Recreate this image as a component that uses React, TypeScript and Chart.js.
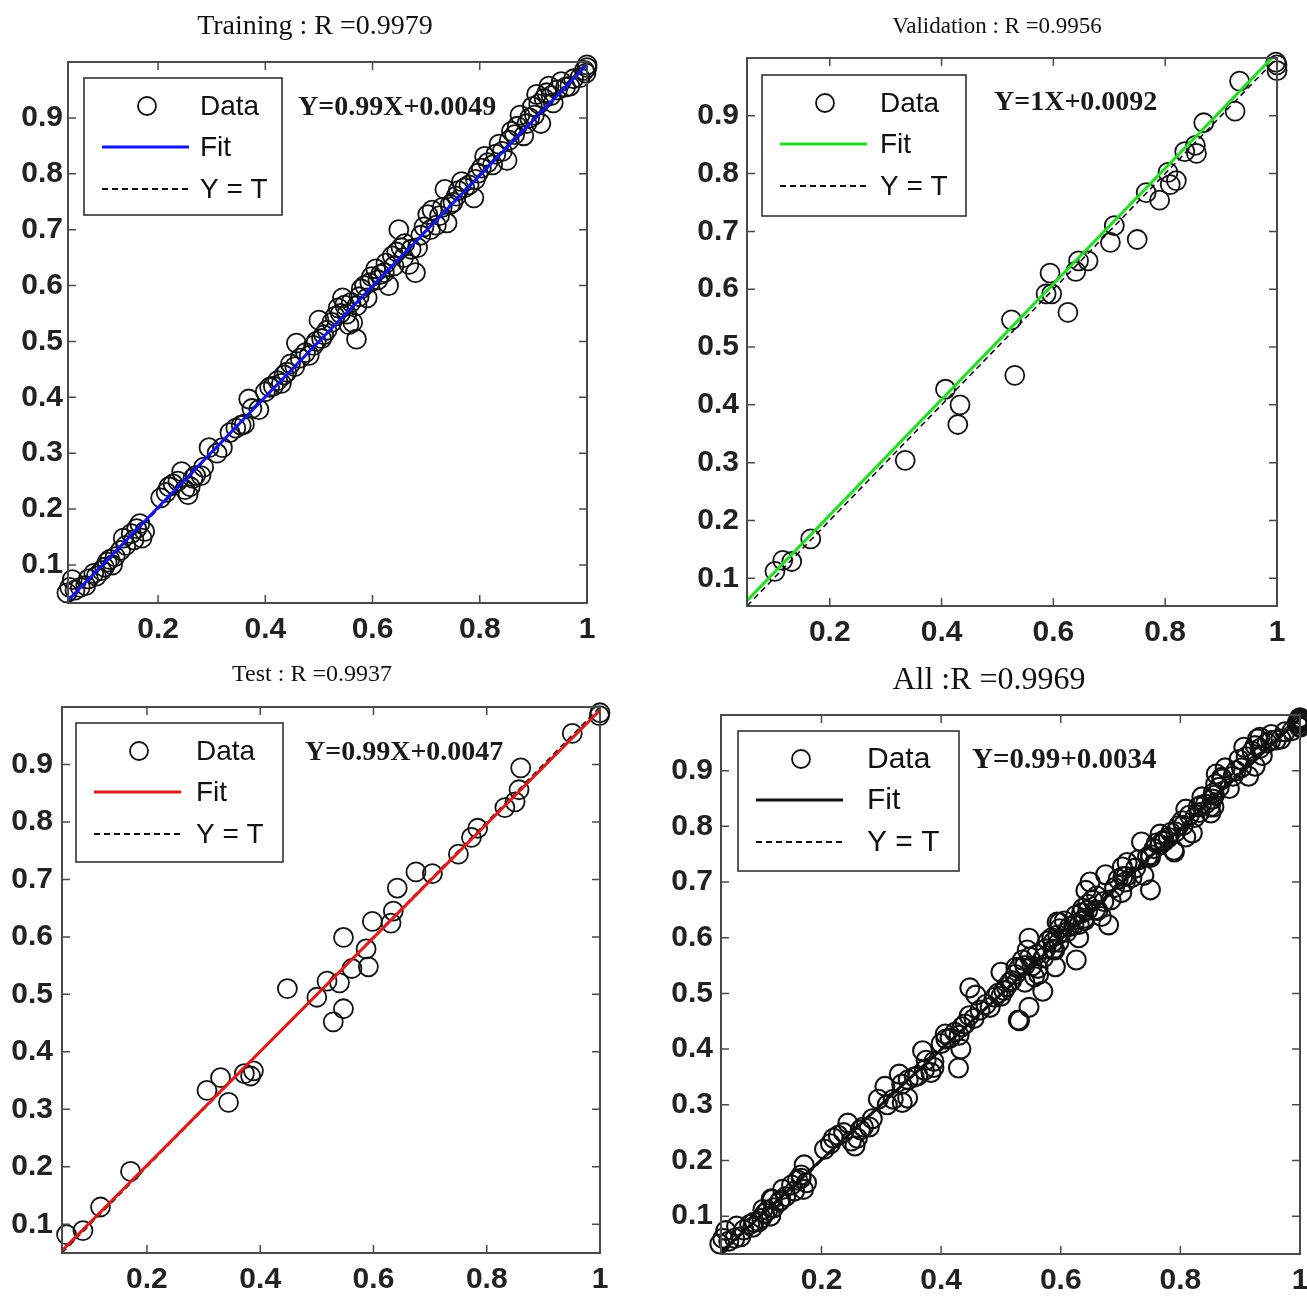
import React, { useEffect, useRef } from "react";
import { Chart, registerables } from "chart.js";

Chart.register(...registerables);

// ---------------- data ----------------
const xTickValues = [0.2, 0.4, 0.6, 0.8, 1];
const yTickValues = [0.1, 0.2, 0.3, 0.4, 0.5, 0.6, 0.7, 0.8, 0.9];

const trainingPoints: [number, number][] = [
  [0.03, 0.05], [0.035, 0.06], [0.04, 0.074], [0.045, 0.055], [0.055, 0.06], [0.065, 0.063],
  [0.07, 0.075], [0.08, 0.085], [0.085, 0.08], [0.095, 0.09], [0.1, 0.096], [0.105, 0.105],
  [0.11, 0.11], [0.115, 0.1], [0.12, 0.115], [0.13, 0.126], [0.135, 0.148], [0.14, 0.135],
  [0.15, 0.156], [0.155, 0.145], [0.16, 0.165], [0.166, 0.174], [0.17, 0.148], [0.175, 0.16],
  [0.205, 0.22], [0.215, 0.23], [0.22, 0.24], [0.228, 0.245], [0.237, 0.25], [0.244, 0.267],
  [0.25, 0.235], [0.256, 0.226], [0.26, 0.24], [0.265, 0.255], [0.27, 0.26], [0.28, 0.26],
  [0.285, 0.275], [0.295, 0.31], [0.31, 0.3], [0.32, 0.31], [0.334, 0.337], [0.345, 0.345],
  [0.355, 0.35], [0.361, 0.352], [0.369, 0.397], [0.375, 0.38], [0.388, 0.378], [0.4, 0.41],
  [0.408, 0.418], [0.415, 0.42], [0.423, 0.43], [0.43, 0.425], [0.435, 0.44], [0.44, 0.445],
  [0.447, 0.46], [0.455, 0.455], [0.458, 0.497], [0.465, 0.47], [0.475, 0.48], [0.482, 0.475],
  [0.49, 0.493], [0.495, 0.5], [0.5, 0.538], [0.505, 0.505], [0.509, 0.512], [0.515, 0.52],
  [0.524, 0.534], [0.53, 0.545], [0.536, 0.56], [0.54, 0.55], [0.544, 0.578], [0.548, 0.565],
  [0.552, 0.549], [0.556, 0.53], [0.56, 0.57], [0.563, 0.534], [0.57, 0.504], [0.571, 0.564],
  [0.575, 0.58], [0.579, 0.594], [0.585, 0.6], [0.59, 0.578], [0.595, 0.605], [0.598, 0.616],
  [0.606, 0.63], [0.61, 0.61], [0.615, 0.62], [0.622, 0.623], [0.625, 0.64], [0.63, 0.6],
  [0.637, 0.653], [0.64, 0.635], [0.645, 0.66], [0.649, 0.7], [0.653, 0.668], [0.658, 0.65],
  [0.66, 0.675], [0.668, 0.638], [0.672, 0.665], [0.68, 0.623], [0.684, 0.668], [0.69, 0.69],
  [0.696, 0.705], [0.703, 0.727], [0.708, 0.7], [0.711, 0.735], [0.719, 0.708], [0.725, 0.725],
  [0.73, 0.74], [0.735, 0.772], [0.739, 0.712], [0.745, 0.745], [0.75, 0.749], [0.756, 0.76],
  [0.76, 0.77], [0.766, 0.786], [0.772, 0.775], [0.78, 0.78], [0.789, 0.757], [0.792, 0.79],
  [0.797, 0.801], [0.803, 0.81], [0.809, 0.831], [0.815, 0.82], [0.824, 0.816], [0.83, 0.835],
  [0.836, 0.853], [0.842, 0.84], [0.851, 0.824], [0.855, 0.86], [0.859, 0.876], [0.865, 0.87],
  [0.87, 0.885], [0.875, 0.905], [0.882, 0.868], [0.888, 0.89], [0.893, 0.9], [0.898, 0.92],
  [0.902, 0.905], [0.906, 0.942], [0.91, 0.925], [0.914, 0.89], [0.92, 0.935], [0.925, 0.945],
  [0.929, 0.957], [0.933, 0.94], [0.937, 0.927], [0.945, 0.95], [0.952, 0.965], [0.96, 0.955],
  [0.968, 0.957], [0.975, 0.97], [0.987, 0.972], [0.995, 0.985], [1.0, 0.99], [1.0, 0.995],
  [0.998, 0.98],
];

const validationPoints: [number, number][] = [
  [0.102, 0.112], [0.116, 0.131], [0.132, 0.129], [0.166, 0.168], [0.335, 0.304], [0.407, 0.427],
  [0.433, 0.4], [0.429, 0.366], [0.525, 0.547], [0.531, 0.451], [0.587, 0.592], [0.594, 0.628],
  [0.597, 0.592], [0.626, 0.56], [0.64, 0.631], [0.645, 0.649], [0.662, 0.649], [0.702, 0.681],
  [0.709, 0.71], [0.75, 0.686], [0.766, 0.767], [0.79, 0.754], [0.805, 0.802], [0.809, 0.781],
  [0.82, 0.788], [0.835, 0.838], [0.854, 0.849], [0.856, 0.835], [0.869, 0.888], [0.925, 0.908],
  [0.933, 0.96], [1.0, 0.988], [1.0, 0.978], [0.998, 0.993],
];

const testPoints: [number, number][] = [
  [0.058, 0.082], [0.087, 0.089], [0.118, 0.13], [0.171, 0.192], [0.306, 0.333], [0.33, 0.355],
  [0.344, 0.312], [0.372, 0.362], [0.383, 0.358], [0.388, 0.367], [0.448, 0.51], [0.5, 0.495],
  [0.518, 0.523], [0.529, 0.452], [0.54, 0.52], [0.547, 0.475], [0.547, 0.599], [0.562, 0.545],
  [0.587, 0.579], [0.591, 0.548], [0.598, 0.627], [0.631, 0.624], [0.635, 0.645], [0.642, 0.685],
  [0.675, 0.713], [0.704, 0.71], [0.75, 0.744], [0.773, 0.773], [0.784, 0.789], [0.832, 0.825],
  [0.85, 0.835], [0.857, 0.856], [0.86, 0.894], [0.951, 0.954], [1.0, 0.99], [0.999, 0.985],
];

const allPoints: [number, number][] = [...trainingPoints, ...validationPoints, ...testPoints];

const panelPoints = [trainingPoints, validationPoints, testPoints, allPoints];
const panelTitles = ["Training : R =0.9979", "Validation : R =0.9956", "Test : R =0.9937", "All :R =0.9969"];
const equationLabels = ["Y=0.99X+0.0049", "Y=1X+0.0092", "Y=0.99X+0.0047", "Y=0.99+0.0034"];
const fitSlopes = [0.99, 1, 0.99, 0.99];
const fitIntercepts = [0.0049, 0.0092, 0.0047, 0.0034];
const axisMins = [0.032, 0.052, 0.05, 0.032];
const axisMax = 1;
const legendLabels = ["Data", "Fit", "Y = T"];

// ---------------- layout / style ----------------
const fitColors = ["#1414f0", "#22dd22", "#e01a1a", "#111111"];
const markerWidths = [1.8, 1.8, 1.8, 2.1];

type Layout = {
  plot: [number, number, number, number];
  titleX: number; titleY: number; titleSize: number;
  legend: [number, number, number, number];
  legendTextX: number; legendFont: number;
  eqX: number; eqY: number; eqSize: number;
  tickFont: number; yLabelPad: number;
};

const panelLayouts: Layout[] = [
  { plot: [68, 62, 587, 603], titleX: 315, titleY: 27, titleSize: 28, legend: [84, 78, 282, 215], legendTextX: 116, legendFont: 28, eqX: 298, eqY: 108, eqSize: 28, tickFont: 30, yLabelPad: 5 },
  { plot: [747, 58, 1277, 606], titleX: 997, titleY: 27, titleSize: 23, legend: [762, 75, 966, 216], legendTextX: 118, legendFont: 28, eqX: 994, eqY: 103, eqSize: 28, tickFont: 30, yLabelPad: 8 },
  { plot: [62, 707, 600, 1253], titleX: 312, titleY: 675, titleSize: 24, legend: [76, 723, 283, 862], legendTextX: 120, legendFont: 28, eqX: 305, eqY: 753, eqSize: 28, tickFont: 30, yLabelPad: 9 },
  { plot: [721, 715, 1300, 1254], titleX: 989, titleY: 681, titleSize: 32, legend: [738, 731, 959, 871], legendTextX: 129, legendFont: 30, eqX: 972, eqY: 761, eqSize: 29, tickFont: 30, yLabelPad: 8 },
];

const PAD_L = 72;
const PAD_T = 64;
const PAD_R = 18;
const PAD_B = 52;

const fmt = (v: number) => String(Number(v.toFixed(2)));

function Panel({ index }: { index: number }) {
  const ref = useRef<HTMLCanvasElement | null>(null);
  const lay = panelLayouts[index];
  const [L, T, R, B] = lay.plot;
  const cl = L - PAD_L;
  const ct = T - PAD_T;
  const cw = R - L + PAD_L + PAD_R;
  const ch = B - T + PAD_T + PAD_B;

  useEffect(() => {
    const canvas = ref.current;
    if (!canvas) return;
    const min = axisMins[index];
    const slope = fitSlopes[index];
    const icpt = fitIntercepts[index];
    const color = fitColors[index];
    const tickFamily = "'Liberation Sans', Arial, sans-serif";
    const serif = "'Liberation Serif', 'Times New Roman', serif";

    const frame = {
      id: "matlabFrame",
      afterDatasetsDraw(chart: any) {
        const { ctx, chartArea: a, scales } = chart;
        ctx.save();
        // box
        ctx.strokeStyle = "#4a4a4a";
        ctx.lineWidth = 2;
        ctx.strokeRect(a.left, a.top, a.right - a.left, a.bottom - a.top);
        // inward ticks on all four sides
        ctx.lineWidth = 1.5;
        const tl = 8;
        ctx.beginPath();
        for (const t of scales.x.ticks) {
          const px = scales.x.getPixelForValue(t.value);
          ctx.moveTo(px, a.bottom); ctx.lineTo(px, a.bottom - tl);
          ctx.moveTo(px, a.top); ctx.lineTo(px, a.top + tl);
        }
        for (const t of scales.y.ticks) {
          const py = scales.y.getPixelForValue(t.value);
          ctx.moveTo(a.left, py); ctx.lineTo(a.left + tl, py);
          ctx.moveTo(a.right, py); ctx.lineTo(a.right - tl, py);
        }
        ctx.stroke();

        // title
        ctx.fillStyle = "#111";
        ctx.font = `${lay.titleSize}px ${serif}`;
        ctx.textAlign = "center";
        ctx.textBaseline = "middle";
        ctx.fillText(panelTitles[index], lay.titleX - cl, lay.titleY - ct);

        // legend box
        const [bl, bt, br, bb] = lay.legend;
        const x0 = bl - cl, y0 = bt - ct, w = br - bl, h = bb - bt;
        ctx.fillStyle = "#ffffff";
        ctx.fillRect(x0, y0, w, h);
        ctx.strokeStyle = "#333";
        ctx.lineWidth = 1.6;
        ctx.strokeRect(x0, y0, w, h);
        const rows = [y0 + 28, y0 + 69, y0 + 111];
        const ds = chart.data.datasets;
        // marker
        ctx.beginPath();
        ctx.strokeStyle = "#111";
        ctx.lineWidth = 1.8;
        ctx.arc(x0 + 63, rows[0], 9, 0, Math.PI * 2);
        ctx.stroke();
        // fit line
        ctx.beginPath();
        ctx.strokeStyle = ds[1].borderColor;
        ctx.lineWidth = 3;
        ctx.moveTo(x0 + 18, rows[1]); ctx.lineTo(x0 + 105, rows[1]);
        ctx.stroke();
        // y=t line
        ctx.beginPath();
        ctx.strokeStyle = "#111";
        ctx.lineWidth = 1.8;
        ctx.setLineDash([6, 4]);
        ctx.moveTo(x0 + 18, rows[2]); ctx.lineTo(x0 + 105, rows[2]);
        ctx.stroke();
        ctx.setLineDash([]);
        ctx.fillStyle = "#111";
        ctx.font = `${lay.legendFont}px ${tickFamily}`;
        ctx.textAlign = "left";
        ctx.textBaseline = "middle";
        for (let i = 0; i < 3; i++) {
          ctx.fillText(ds[i].label, x0 + lay.legendTextX, rows[i] + 1);
        }

        // equation
        ctx.font = `bold ${lay.eqSize}px ${serif}`;
        ctx.fillStyle = "#1a1a1a";
        ctx.fillText(equationLabels[index], lay.eqX - cl, lay.eqY - ct);
        ctx.restore();
      },
    };

    const chart = new Chart(canvas, {
      type: "scatter",
      data: {
        datasets: [
          {
            label: legendLabels[0],
            data: panelPoints[index].map(([x, y]) => ({ x, y })),
            showLine: false,
            pointStyle: "circle",
            pointRadius: 9.5,
            pointBackgroundColor: "rgba(0,0,0,0)",
            pointBorderColor: "#111",
            pointBorderWidth: markerWidths[index],
            clip: false,
            order: 3,
          },
          {
            label: legendLabels[1],
            data: [
              { x: min, y: slope * min + icpt },
              { x: axisMax, y: slope * axisMax + icpt },
            ],
            showLine: true,
            borderColor: color,
            borderWidth: 3,
            pointRadius: 0,
            order: 1,
          },
          {
            label: legendLabels[2],
            data: [
              { x: min, y: min },
              { x: axisMax, y: axisMax },
            ],
            showLine: true,
            borderColor: "#111",
            borderDash: [6, 4],
            borderWidth: 1.6,
            pointRadius: 0,
            order: 2,
          },
        ],
      },
      options: {
        responsive: false,
        animation: false,
        events: [],
        devicePixelRatio: 1,
        layout: { padding: { left: 0, top: PAD_T, right: PAD_R, bottom: 0 } },
        plugins: {
          legend: { display: false },
          tooltip: { enabled: false },
          title: { display: false },
        },
        scales: {
          x: {
            type: "linear",
            min,
            max: axisMax,
            afterBuildTicks: (s: any) => {
              s.ticks = xTickValues.map((v) => ({ value: v }));
            },
            afterFit: (s: any) => {
              s.height = PAD_B;
            },
            ticks: {
              autoSkip: false,
              maxRotation: 0,
              minRotation: 0,
              padding: 9,
              color: "#222",
              font: { family: tickFamily, weight: "bold", size: lay.tickFont },
              callback: (v: any) => fmt(Number(v)),
            },
            grid: { display: false, drawTicks: false },
            border: { display: false },
          },
          y: {
            type: "linear",
            min,
            max: axisMax,
            afterBuildTicks: (s: any) => {
              s.ticks = yTickValues.map((v) => ({ value: v }));
            },
            afterFit: (s: any) => {
              s.width = PAD_L;
            },
            ticks: {
              autoSkip: false,
              padding: lay.yLabelPad,
              color: "#222",
              font: { family: tickFamily, weight: "bold", size: lay.tickFont },
              callback: (v: any) => fmt(Number(v)),
            },
            grid: { display: false, drawTicks: false },
            border: { display: false },
          },
        },
      } as any,
      plugins: [frame as any],
    });
    return () => chart.destroy();
  }, [index]);

  return (
    <canvas
      ref={ref}
      width={cw}
      height={ch}
      style={{ position: "absolute", left: cl, top: ct, width: cw, height: ch }}
    />
  );
}

export default function App() {
  return (
    <div
      style={{
        position: "absolute",
        left: 0,
        top: 0,
        width: 1307,
        height: 1296,
        overflow: "hidden",
        background: "#ffffff",
      }}
    >
      {[0, 1, 2, 3].map((i) => (
        <Panel key={i} index={i} />
      ))}
    </div>
  );
}
